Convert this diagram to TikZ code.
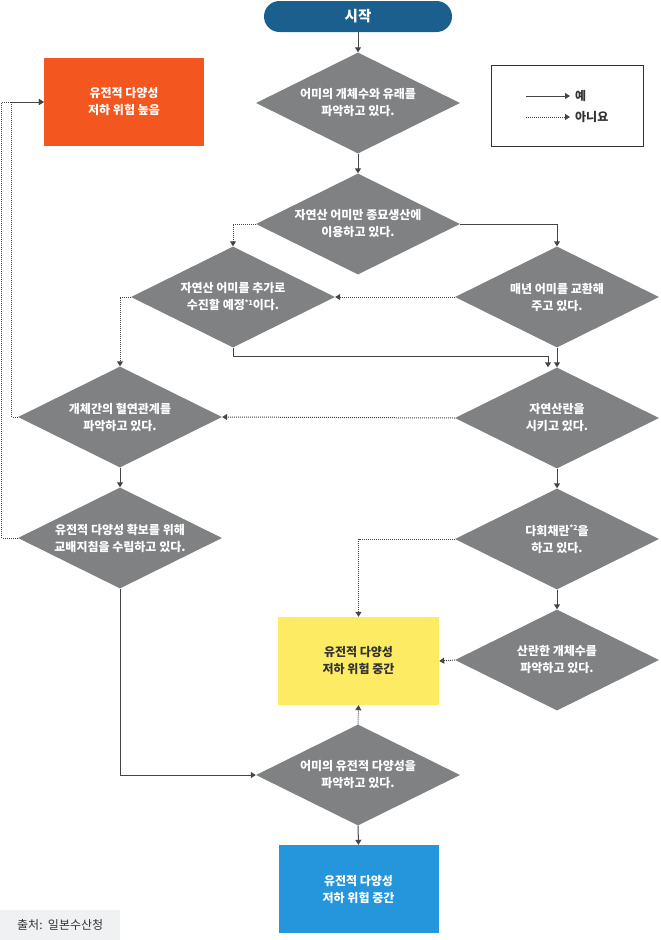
\documentclass[tikz,border=0pt]{standalone}
\usepackage{fontspec}
\setmainfont{Noto Sans CJK KR}
\usetikzlibrary{shapes.geometric,arrows.meta,calc}
\definecolor{dgray}{HTML}{7F8183}
\definecolor{startblue}{HTML}{1B5F8F}
\definecolor{orangebox}{HTML}{F4561F}
\definecolor{yellowbox}{HTML}{FDEB63}
\definecolor{bluebox}{HTML}{2595DC}
\definecolor{linec}{HTML}{454545}
\definecolor{srcbg}{HTML}{F0F1F3}
\definecolor{txtc}{HTML}{333333}
\newcommand{\supnote}[1]{\raisebox{0.7ex}{\fontsize{7}{7}\selectfont #1}}
\begin{document}
\begin{tikzpicture}[x=1pt,y=-1pt,
  dec/.style={diamond, fill=dgray, minimum width=204pt, minimum height=101pt, aspect=2, inner sep=0pt, text=white, font=\fontsize{12}{17}\selectfont\bfseries, align=center},
  res/.style={rectangle, minimum width=160pt, minimum height=88pt, inner sep=0pt, font=\fontsize{12}{17}\selectfont\bfseries, align=center},
  yes/.style={draw=linec, line width=1pt, -{Triangle[length=5pt,width=6pt]}},
  no/.style={yes, dash pattern=on 1pt off 1pt},
  legtext/.style={anchor=west, inner sep=0pt, text=txtc, font=\fontsize{12}{14}\selectfont\bfseries}
]
\useasboundingbox (0,0) rectangle (661,940);

% start
\node[fill=startblue, rounded corners=15.5pt, minimum width=188pt, minimum height=31pt, inner sep=0pt, text=white, font=\fontsize{14.5}{16}\selectfont\bfseries] (start) at (358,16.5) {시작};

% decisions
\node[dec] (d1) at (358,103) {어미의 개체수와 유래를\\파악하고 있다.};
\node[dec] (d2) at (358,224) {자연산 어미만 종묘생산에\\이용하고 있다.};
\node[dec] (d3) at (233,297) {자연산 어미를 추가로\\수진할 예정\supnote{*1}이다.};
\node[dec] (d4) at (557,297) {매년 어미를 교환해\\주고 있다.};
\node[dec] (d5) at (557,418) {자연산란을\\시키고 있다.};
\node[dec] (d6) at (120,417) {개체간의 혈연관계를\\파악하고 있다.};
\node[dec] (d7) at (120,538) {유전적 다양성 확보를 위해\\교배지침을 수립하고 있다.};
\node[dec] (d8) at (557,539) {다회채란\supnote{*2}을\\하고 있다.};
\node[dec] (d9) at (557,660) {산란한 개체수를\\파악하고 있다.};
\node[dec] (d10) at (358,775) {어미의 유전적 다양성을\\파악하고 있다.};

% results
\node[res, fill=orangebox, text=white] (orange) at (124,102) {유전적 다양성\\저하 위험 높음};
\node[res, fill=yellowbox, text=txtc, minimum width=161pt] (yellow) at (358.5,661) {유전적 다양성\\저하 위험 중간};
\node[res, fill=bluebox, text=white] (blue) at (358.5,889) {유전적 다양성\\저하 위험 중간};

% legend
\node[draw=txtc, line width=1pt, minimum width=152pt, minimum height=81pt, inner sep=0pt] (legend) at (567,105.5) {};
\coordinate (ya) at (526,96);
\coordinate (yb) at (570,96);
\coordinate (na) at (526,117);
\coordinate (nb) at (570,117);
\draw[yes] (ya) -- (yb);
\draw[no] (na) -- (nb);
\node[legtext] (lyes) at (575,96) {예};
\node[legtext] (lno) at (575,117) {아니요};

% source
\node[fill=srcbg, minimum width=120pt, minimum height=30pt, inner sep=0pt, anchor=north west, text=txtc, font=\fontsize{12}{14}\selectfont] (src) at (0,910) {출처:\ \ 일본수산청};

% connectors
\draw[yes] (start.south) -- (d1.north);
\draw[yes] (d1.south) -- (d2.north);
\draw[yes] (d2.east) -| (d4.north);
\draw[no] (d2.west) -| (d3.north);
\draw[no] (d4.west) -- (d3.east);
\draw[yes] (d4.south) -- (d5.north);
\draw[yes] (d3.south) -- ++(0,9) -| ($(d5.north)+(-9pt,0pt)$);
\draw[no] (d3.west) -| (d6.north);
\draw[no] (d5.west) -- (d6.east);
\draw[yes] (d5.south) -- (d8.north);
\draw[yes] (d6.south) -- (d7.north);
\draw[no] (d6.west) -- ++(-6,0) |- (orange.west);
\draw[no] (d7.west) -- ++(-16,0) |- (orange.west);
\draw[yes] (d7.south) |- (d10.west);
\draw[no] (d8.west) -| (yellow.north);
\draw[yes] (d8.south) -- (d9.north);
\draw[no] (d9.west) -- (yellow.east);
\draw[no] (d10.north) -- (yellow.south);
\draw[yes] (d10.south) -- (blue.north);
\end{tikzpicture}
\end{document}
